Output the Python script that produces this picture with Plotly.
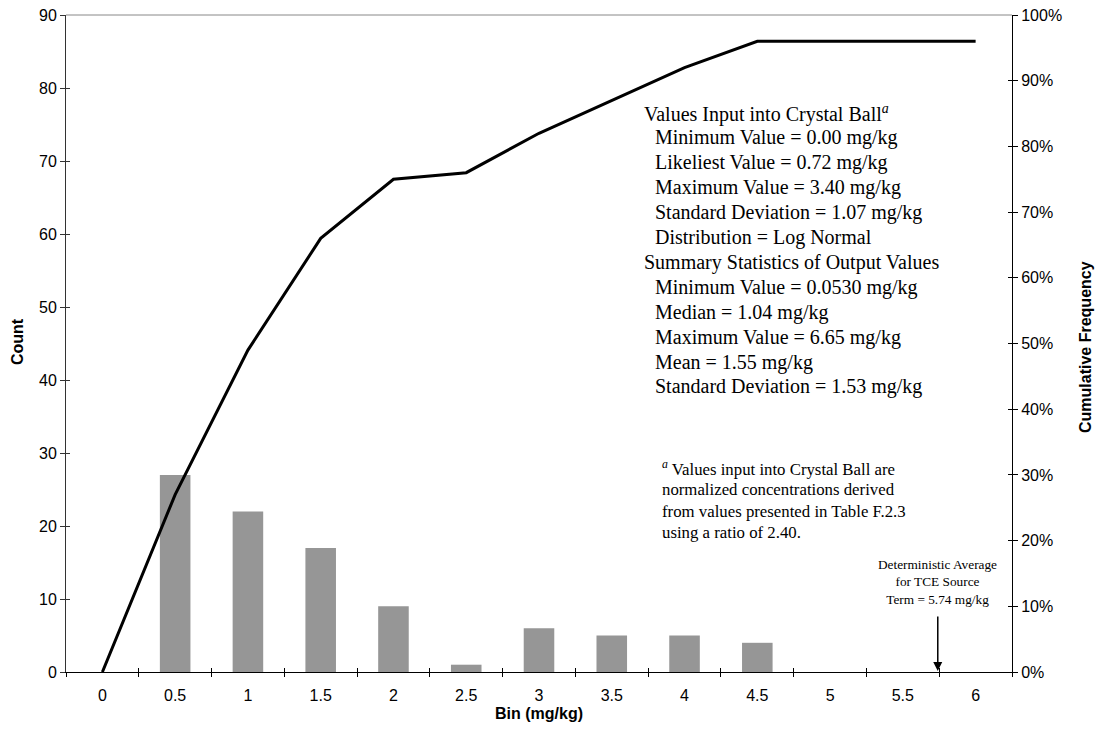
import plotly.graph_objects as go

bins = ["0", "0.5", "1", "1.5", "2", "2.5", "3", "3.5", "4", "4.5", "5", "5.5", "6"]
counts = [0, 27, 22, 17, 9, 1, 6, 5, 5, 4, 0, 0, 0]
cumulative = [0.00, 0.27, 0.49, 0.66, 0.75, 0.76, 0.82, 0.87, 0.92, 0.96, 0.96, 0.96, 0.96]
det_avg = 5.74
bin_step = 0.5

left_y_ticks = list(range(0, 91, 10))
right_y_ticks = [i / 10 for i in range(11)]

input_lines = [
    ("Values Input into Crystal Ball<sup><i>a</i></sup>", 0),
    ("Minimum Value = 0.00 mg/kg", 1),
    ("Likeliest Value = 0.72 mg/kg", 1),
    ("Maximum Value = 3.40 mg/kg", 1),
    ("Standard Deviation = 1.07 mg/kg", 1),
    ("Distribution = Log Normal", 1),
    ("Summary Statistics of Output Values", 0),
    ("Minimum Value = 0.0530 mg/kg", 1),
    ("Median = 1.04 mg/kg", 1),
    ("Maximum Value = 6.65 mg/kg", 1),
    ("Mean = 1.55 mg/kg", 1),
    ("Standard Deviation = 1.53 mg/kg", 1),
]
footnote_lines = [
    "<sup><i>a</i></sup> Values input into Crystal Ball are",
    "normalized concentrations derived",
    "from values presented in Table F.2.3",
    "using a ratio of 2.40.",
]
det_text = "Deterministic Average<br>for TCE Source<br>Term = 5.74 mg/kg"

# plot area in pixels
W, H = 1099, 736
L, R, T, B = 66, 1012, 15, 672
pw, ph = R - L, B - T

def px(x):
    return (x - L) / pw

def py(y):
    return (B - y) / ph

fig = go.Figure()
fig.add_trace(go.Bar(x=bins, y=counts, marker=dict(color="#969696", line=dict(width=0)),
                     yaxis="y", showlegend=False))
fig.add_trace(go.Scatter(x=bins, y=cumulative, mode="lines", line=dict(color="black", width=3),
                         yaxis="y2", showlegend=False))

serif = "Liberation Serif, Times New Roman, serif"
sans = "Liberation Sans, Arial, sans-serif"
annotations = []
for i, (txt, indent) in enumerate(input_lines):
    annotations.append(dict(text=txt, xref="paper", yref="paper", x=px(642 + 11 * indent), y=py(113 + 24.9 * i),
                            xanchor="left", yanchor="middle", showarrow=False,
                            font=dict(family=serif, size=20, color="black")))
for i, txt in enumerate(footnote_lines):
    annotations.append(dict(text=txt, xref="paper", yref="paper", x=px(660), y=py(468 + 21.5 * i),
                            xanchor="left", yanchor="middle", showarrow=False,
                            font=dict(family=serif, size=16.8, color="black")))
det_idx = det_avg / bin_step
annotations.append(dict(text=det_text, xref="x", yref="paper", x=det_idx, y=py(555),
                        xanchor="center", yanchor="top", showarrow=False, align="center",
                        font=dict(family=serif, size=13.3, color="black")))
annotations.append(dict(text="", xref="x", yref="y", x=det_idx, y=0, axref="x", ayref="y",
                        ax=det_idx, ay=7.8, showarrow=True, arrowhead=2, arrowsize=1.2,
                        arrowwidth=1.5, arrowcolor="black", standoff=1))
# axis titles
annotations.append(dict(text="<b>Count</b>", xref="paper", yref="paper", x=px(17), y=py(342),
                        textangle=-90, showarrow=False, xanchor="center", yanchor="middle",
                        font=dict(family=sans, size=16, color="black")))
annotations.append(dict(text="<b>Cumulative Frequency</b>", xref="paper", yref="paper", x=px(1085), y=py(347),
                        textangle=-90, showarrow=False, xanchor="center", yanchor="middle",
                        font=dict(family=sans, size=16, color="black")))
annotations.append(dict(text="<b>Bin (mg/kg)</b>", xref="paper", yref="paper", x=px(539), y=py(713),
                        showarrow=False, xanchor="center", yanchor="middle",
                        font=dict(family=sans, size=16, color="black")))

fig.update_layout(
    width=W, height=H,
    margin=dict(l=L, r=W - R, t=T, b=H - B),
    paper_bgcolor="white", plot_bgcolor="white",
    bargap=0.58,
    font=dict(family=sans, size=16, color="black"),
    xaxis=dict(type="category", categoryorder="array", categoryarray=bins, range=[-0.5, 12.5],
               tickson="boundaries", ticks="outside", ticklen=4, tickcolor="black",
               showline=True, linecolor="black", linewidth=1, showgrid=False, zeroline=False,
               tickfont=dict(size=16), ticklabelstandoff=9, automargin=False),
    yaxis=dict(range=[0, 90], tickvals=left_y_ticks, ticks="outside", ticklen=5, tickcolor="#333",
               showline=True, linecolor="#333", linewidth=1, showgrid=False, zeroline=False,
               tickfont=dict(size=16), automargin=False),
    yaxis2=dict(range=[0, 1], tickvals=right_y_ticks, tickformat=".0%", overlaying="y", side="right",
                ticks="outside", ticklen=5, tickcolor="black", showline=True, linecolor="black",
                linewidth=1, showgrid=False, zeroline=False, tickfont=dict(size=16), automargin=False),
    # overlay axes that only draw the inner half of the crossing tick marks
    xaxis2=dict(type="category", categoryorder="array", categoryarray=bins, range=[-0.5, 12.5],
                overlaying="x", anchor="y", side="bottom", tickson="boundaries", ticks="inside",
                ticklen=4, tickcolor="black", showticklabels=False, showline=False, showgrid=False,
                zeroline=False, automargin=False),
    yaxis3=dict(range=[0, 90], tickvals=left_y_ticks, overlaying="y", side="left", ticks="inside",
                ticklen=4, tickcolor="#333", showticklabels=False, showline=False, showgrid=False,
                zeroline=False, automargin=False),
    yaxis4=dict(range=[0, 1], tickvals=right_y_ticks, overlaying="y", side="right", ticks="inside",
                ticklen=4, tickcolor="black", showticklabels=False, showline=False, showgrid=False,
                zeroline=False, automargin=False),
    annotations=annotations,
    shapes=[dict(type="line", xref="paper", yref="paper", x0=0, x1=1, y0=1, y1=1,
                 line=dict(color="#888", width=1))],
)
fig.add_trace(go.Scatter(x=[], y=[], xaxis="x2", yaxis="y3", showlegend=False, hoverinfo="skip"))
fig.add_trace(go.Scatter(x=[], y=[], xaxis="x2", yaxis="y4", showlegend=False, hoverinfo="skip"))

fig.write_html("out.html", config={"displayModeBar": False},
               post_script="document.body.style.margin='0';")
